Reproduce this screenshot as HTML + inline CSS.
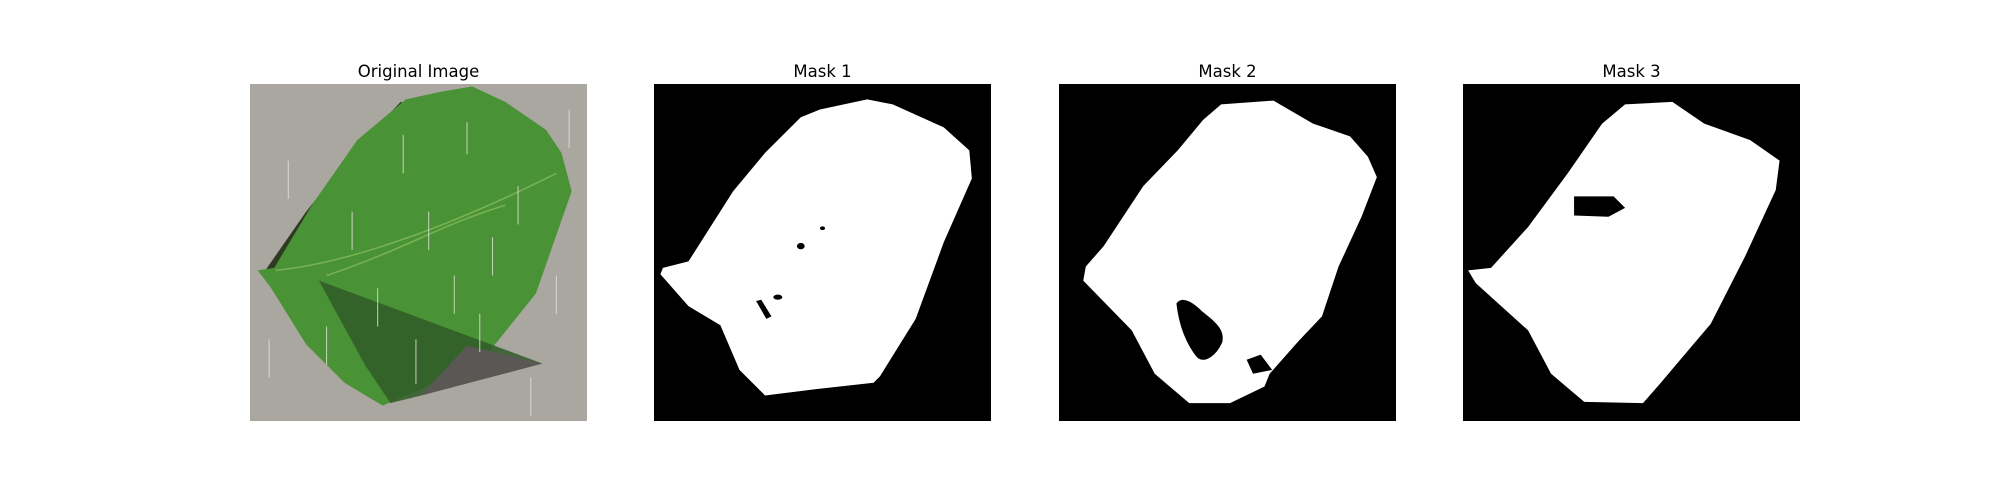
<!DOCTYPE html>
<html><head><meta charset="utf-8">
<style>
body{margin:0;background:#fff;width:2000px;height:500px;position:relative;overflow:hidden;font-family:"DejaVu Sans","Liberation Sans",sans-serif;}
.title{position:absolute;top:62px;width:337px;text-align:center;font-size:16.5px;color:#000;}
.panel{position:absolute;top:84px;width:337px;height:337px;}
</style></head><body>
<div class="title" style="left:250px">Original Image</div>
<div class="title" style="left:654px">Mask 1</div>
<div class="title" style="left:1059px">Mask 2</div>
<div class="title" style="left:1463px">Mask 3</div>

<svg class="panel" style="left:250px" viewBox="0 0 264 264" preserveAspectRatio="none">
<rect width="264" height="264" fill="#a9a79f"/>
<polygon points="118,14 84,50 44,100 12,146 20,146 52,98 88,48 124,16" fill="#2f3a22"/>
<polygon points="122,12 150,6 174,2 200,14 232,36 244,54 252,84 224,164 184,214 134,239 104,252 74,234 44,204 16,159 6,146 19,144 49,94 84,44" fill="#4a9236"/>
<polygon points="54,154 229,219 134,244 110,250 90,220" fill="#2f5a27" opacity="0.85"/>
<polygon points="170,205 229,219 134,244" fill="#5a5855"/>
<path d="M20,146 C80,140 160,110 240,70 M60,150 C120,130 150,110 200,95" stroke="#8cc060" stroke-width="1.2" fill="none" opacity="0.7"/>
<g stroke="#e4e4dc" stroke-width="0.8" opacity="0.8">
<line x1="120" y1="40" x2="120" y2="70"/><line x1="170" y1="30" x2="170" y2="55"/><line x1="210" y1="80" x2="210" y2="110"/><line x1="80" y1="100" x2="80" y2="130"/><line x1="140" y1="100" x2="140" y2="130"/><line x1="190" y1="120" x2="190" y2="150"/><line x1="100" y1="160" x2="100" y2="190"/><line x1="160" y1="150" x2="160" y2="180"/><line x1="60" y1="190" x2="60" y2="220"/><line x1="130" y1="200" x2="130" y2="235"/><line x1="30" y1="60" x2="30" y2="90"/><line x1="240" y1="150" x2="240" y2="180"/><line x1="15" y1="200" x2="15" y2="230"/><line x1="220" y1="230" x2="220" y2="260"/><line x1="250" y1="20" x2="250" y2="50"/><line x1="180" y1="180" x2="180" y2="210"/>
</g>
</svg>

<svg class="panel" style="left:654px" viewBox="0 0 264 264" preserveAspectRatio="none">
<rect width="264" height="264" fill="#000"/>
<polygon points="115,26 130,20 167,12 187,16 227,34 247,52 249,74 227,124 205,184 177,229 172,234 127,239 87,244 67,224 52,189 27,174 5,149 7,144 27,139 62,84 87,54" fill="#fff"/>
<ellipse cx="115" cy="127" rx="3" ry="2.5" fill="#000"/>
<ellipse cx="132" cy="113" rx="2" ry="1.5" fill="#000"/>
<ellipse cx="97" cy="167" rx="3.5" ry="2" fill="#000"/>
<polygon points="80,170 84,169 92,182 88,184" fill="#000"/>
</svg>

<svg class="panel" style="left:1059px" viewBox="0 0 264 264" preserveAspectRatio="none">
<rect width="264" height="264" fill="#000"/>
<polygon points="127,16 168,13 199,31 228,41 242,57 249,73 237,104 219,143 206,182 188,201 165,227 161,237 134,250 102,250 75,227 57,193 19,154 21,143 35,127 66,80 93,52 113,28" fill="#fff"/>
<path d="M92,172 C96,166 104,170 112,178 C122,186 130,192 128,202 C124,212 114,220 108,214 C100,204 94,190 92,172 Z" fill="#000"/>
<polygon points="147,216 158,212 167,224 152,227" fill="#000"/>
</svg>

<svg class="panel" style="left:1463px" viewBox="0 0 264 264" preserveAspectRatio="none">
<rect width="264" height="264" fill="#000"/>
<polygon points="127,16 164,14 189,31 225,44 248,60 245,83 221,135 194,188 177,208 155,234 141,250 95,249 69,227 51,193 10,156 4,146 22,144 51,112 82,70 109,31" fill="#fff"/>
<polygon points="87,88 118,88 127,97 114,104 87,103" fill="#000"/>
</svg>
</body></html>
